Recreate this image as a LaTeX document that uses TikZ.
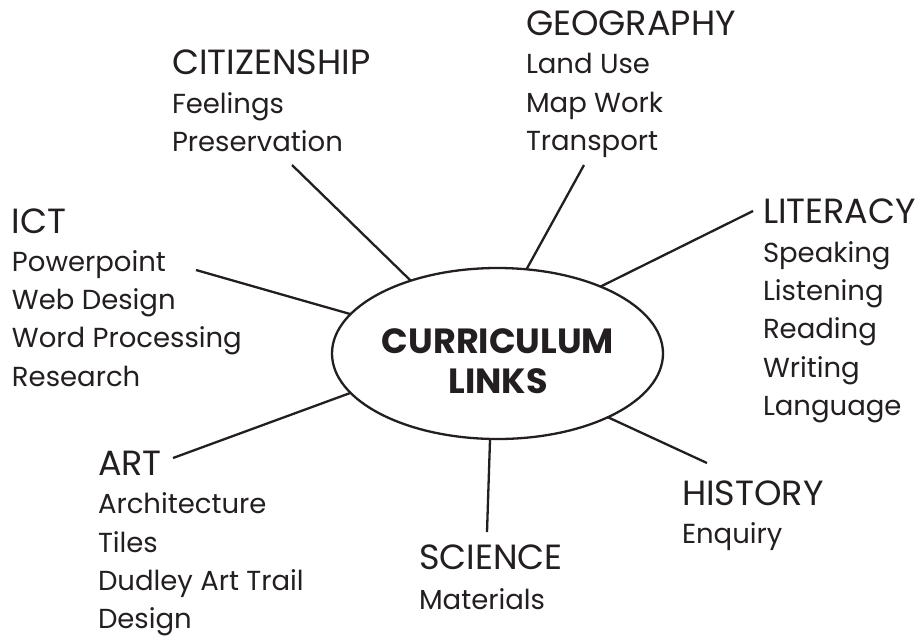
\documentclass[tikz,border=0pt]{standalone}
\usepackage{fontspec}
\setmainfont{Poppins}
\usetikzlibrary{shapes.geometric}
\definecolor{ink}{HTML}{231F20}
\tikzset{
  head/.style={anchor=base west, inner sep=0pt, outer sep=0pt, text=ink, font=\fontsize{35}{38}\selectfont},
  item/.style={anchor=base west, inner sep=0pt, outer sep=0pt, text=ink, font=\fontsize{27.5}{38}\selectfont},
  link/.style={draw=ink, line width=2.3pt},
  hub/.style={ellipse, draw=ink, line width=2.3pt, minimum width=331pt, minimum height=171pt, inner sep=0pt, outer sep=0pt},
  hubtext/.style={anchor=base, inner sep=0pt, outer sep=0pt, text=ink, font=\bfseries\fontsize{35}{40}\selectfont}
}
\begin{document}
\begin{tikzpicture}[x=1pt,y=-1pt]
\useasboundingbox[fill=white] (0,0) rectangle (915,638);
\node[hub] (ell) at (497.5,353.5) {};
\node[hubtext] (hub1) at (498,353) {CURRICULUM};
\node[hubtext] (hub2) at (498,393) {LINKS};
% Citizenship
\node[head] (cit) at (172,74) {CITIZENSHIP};
\node[item] (cit1) at (172,113) {Feelings};
\node[item] (cit2) at (172,151) {Preservation};
% Geography
\node[head] (geo) at (526,35) {GEOGRAPHY};
\node[item] (geo1) at (526,73) {Land Use};
\node[item] (geo2) at (526,112) {Map Work};
\node[item] (geo3) at (526,150) {Transport};
% ICT
\node[head] (ict) at (12,233) {ICT};
\node[item] (ict1) at (12,271) {Powerpoint};
\node[item] (ict2) at (12,309) {Web Design};
\node[item] (ict3) at (12,347) {Word Processing};
\node[item] (ict4) at (12,386) {Research};
% Literacy
\node[head] (lit) at (763,223) {LITERACY};
\node[item] (lit1) at (763,262) {Speaking};
\node[item] (lit2) at (763,300) {Listening};
\node[item] (lit3) at (763,338) {Reading};
\node[item] (lit4) at (763,377) {Writing};
\node[item] (lit5) at (763,415) {Language};
% Art
\node[head] (art) at (98,475) {ART};
\node[item] (art1) at (98,513) {Architecture};
\node[item] (art2) at (98,552) {Tiles};
\node[item] (art3) at (98,590) {Dudley Art Trail};
\node[item] (art4) at (98,628) {Design};
% Science
\node[head] (sci) at (419,569) {SCIENCE};
\node[item] (sci1) at (419,609) {Materials};
% History
\node[head] (his) at (682,505) {HISTORY};
\node[item] (his1) at (682,543) {Enquiry};
% connector free ends
\coordinate (cgeo) at (584,165);
\coordinate (clit) at (753,211);
\coordinate (ccit) at (292,165);
\coordinate (cict) at (196,270);
\coordinate (cart) at (173,458);
\coordinate (csci) at (487,532);
\coordinate (chis) at (707,463);
\draw[link] (cgeo) -- (ell.71.6);
\draw[link] (clit) -- (ell.33.1);
\draw[link] (ccit) -- (ell.140.8);
\draw[link] (cict) -- (ell.165.5);
\draw[link] (cart) -- (ell.195.5);
\draw[link] (csci) -- (ell.265.7);
\draw[link] (chis) -- (ell.330.6);
\end{tikzpicture}
\end{document}
